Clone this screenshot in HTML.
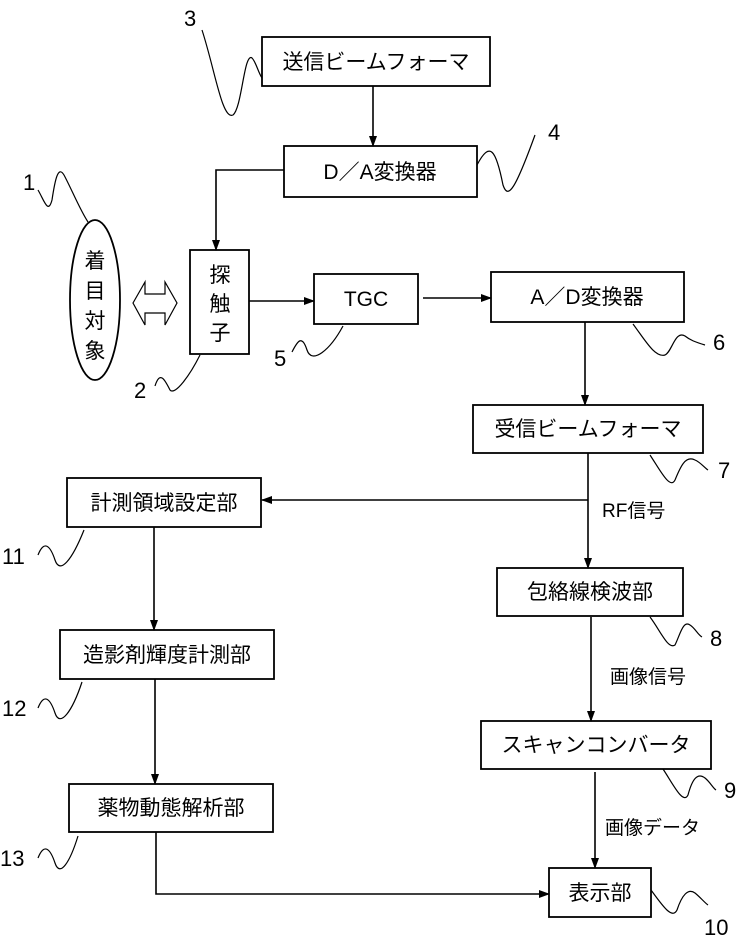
<!DOCTYPE html>
<html><head><meta charset="utf-8"><style>
html,body{margin:0;padding:0;background:#fff}
svg{display:block}
text{font-family:"Liberation Sans","Noto Sans CJK JP",sans-serif;fill:#000}
</style></head><body>
<svg width="737" height="941" viewBox="0 0 737 941" xmlns="http://www.w3.org/2000/svg">
<defs><marker id="a" markerWidth="11" markerHeight="10" refX="10" refY="5" orient="auto" markerUnits="userSpaceOnUse"><path d="M0,1 L11,5 L0,9 z" fill="#000"/></marker></defs>
<g fill="none" stroke="#000" stroke-width="1.8">
<rect x="262" y="37" width="228" height="49"/>
<rect x="284" y="146" width="193" height="51"/>
<ellipse cx="95" cy="300" rx="25" ry="80"/>
<rect x="190" y="250" width="59" height="104"/>
<rect x="314" y="274" width="104" height="50"/>
<rect x="491" y="272" width="193" height="50"/>
<rect x="473" y="405" width="230" height="48"/>
<rect x="67" y="478" width="194" height="49"/>
<rect x="497" y="568" width="186" height="48"/>
<rect x="481" y="721" width="230" height="48"/>
<rect x="549" y="868" width="102" height="49"/>
<rect x="60" y="630" width="214" height="49"/>
<rect x="69" y="784" width="204" height="48"/>
<path d="M133,303 L145,282 L145,294 L165,294 L165,282 L177,303 L165,325 L165,313 L145,313 L145,325 Z" stroke-width="1.2"/>
</g>
<g stroke="#000" stroke-width="1.6" fill="none" marker-end="url(#a)">
<path d="M373,86 V146"/>
<path d="M284,170 H216 V250"/>
<path d="M249,301 H314"/>
<path d="M423,298 H491"/>
<path d="M585,322 V405"/>
<path d="M588,453 V568"/>
<path d="M588,500 H262"/>
<path d="M591,617 V721"/>
<path d="M595,772 V868"/>
<path d="M154,527 V630"/>
<path d="M155,679 V784"/>
<path d="M156,832 V894 H549"/>
</g>
<g stroke="#000" stroke-width="1.2" fill="none">
<path d="M202,30 C215,70 222,120 233,115 C242,108 244,52 252,58 C256,62 258,72 262,78"/>
<path d="M477,165 C490,140 496,150 503,185 C508,200 515,190 535,135"/>
<path d="M38,190 C44,200 48,215 52,200 C55,180 58,165 64,175 C72,190 80,210 88,222"/>
<path d="M155,386 C160,370 165,380 170,390 C175,396 190,375 200,355"/>
<path d="M292,352 C298,340 302,335 307,350 C312,365 330,350 343,326"/>
<path d="M633,324 C645,340 655,358 665,355 C672,352 675,330 685,336 C690,340 695,342 705,345"/>
<path d="M650,455 C660,470 670,490 675,480 C680,468 685,455 695,460 C700,462 705,468 708,470"/>
<path d="M38,555 C44,540 50,545 55,560 C60,575 72,560 84,530"/>
<path d="M650,617 C660,630 668,650 675,645 C680,635 683,620 690,625 C695,628 698,635 702,637"/>
<path d="M38,708 C44,693 50,698 55,713 C60,728 72,712 82,682"/>
<path d="M663,769 C673,784 683,805 688,795 C692,780 697,772 705,778 C710,782 713,788 716,790"/>
<path d="M38,858 C44,843 50,848 55,863 C60,878 70,862 78,836"/>
<path d="M651,890 C662,905 672,920 677,910 C682,895 688,888 695,893 C700,897 705,903 708,905"/>
</g>
<g font-size="21" text-anchor="middle">
<text x="376" y="69">送信ビームフォーマ</text>
<text x="380" y="179">D／A変換器</text>
<text x="366" y="306">TGC</text>
<text x="587" y="304">A／D変換器</text>
<text x="588" y="436">受信ビームフォーマ</text>
<text x="164" y="510">計測領域設定部</text>
<text x="590" y="599">包絡線検波部</text>
<text x="596" y="752">スキャンコンバータ</text>
<text x="600" y="900">表示部</text>
<text x="167" y="662">造影剤輝度計測部</text>
<text x="171" y="815">薬物動態解析部</text>
<text x="95" y="268">着</text>
<text x="95" y="298">目</text>
<text x="95" y="328">対</text>
<text x="95" y="358">象</text>
<text x="220" y="282">探</text>
<text x="220" y="311">触</text>
<text x="220" y="340">子</text>
</g>
<g font-size="19">
<text x="602" y="517">RF信号</text>
<text x="610" y="683">画像信号</text>
<text x="605" y="834">画像データ</text>
</g>
<g font-size="22">
<text x="184" y="26">3</text>
<text x="548" y="140">4</text>
<text x="23" y="190">1</text>
<text x="134" y="398">2</text>
<text x="274" y="366">5</text>
<text x="713" y="350">6</text>
<text x="718" y="478">7</text>
<text x="2" y="564">11</text>
<text x="710" y="646">8</text>
<text x="2" y="716">12</text>
<text x="724" y="798">9</text>
<text x="0" y="866">13</text>
<text x="704" y="935">10</text>
</g>
</svg>
</body></html>
